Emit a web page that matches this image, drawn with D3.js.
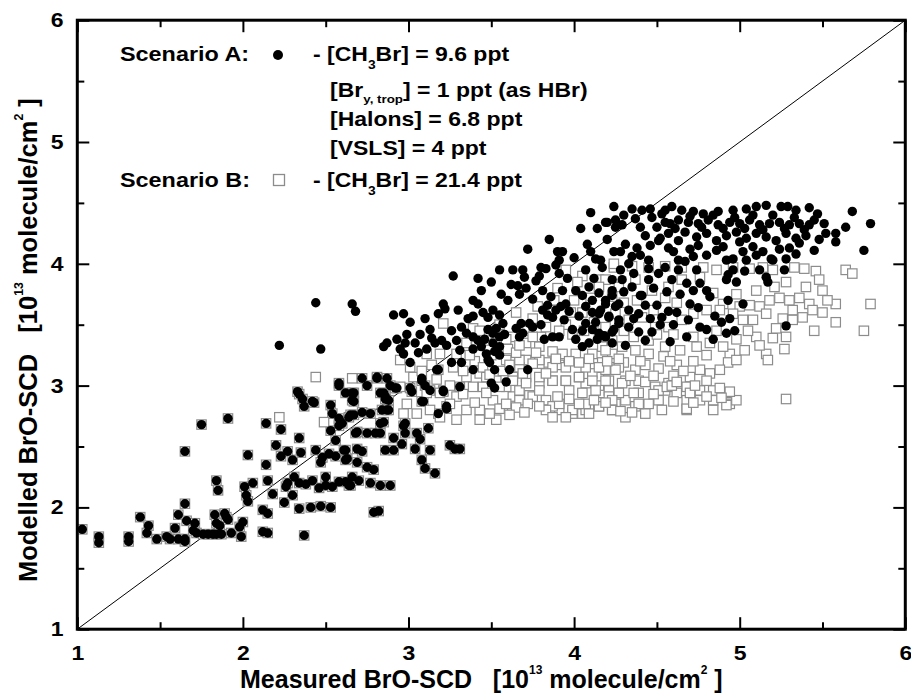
<!DOCTYPE html>
<html><head><meta charset="utf-8">
<script src="https://cdn.jsdelivr.net/npm/d3@7"></script>
<style>
body{margin:0;background:#fff}
svg{display:block}
text{font-family:"Liberation Sans",Arial,sans-serif;font-weight:bold;fill:#000}
</style>
</head><body>
<svg id="c" width="911" height="695"></svg>
<script>
// ---------- data (measured, modelled) in 10^13 molecule/cm^2 ----------
// points where scenario A and scenario B coincide
const sharedPts = [
[1.03,1.82],[1.13,1.76],[1.13,1.71],[1.31,1.76],[1.31,1.72],[1.38,1.92],[1.43,1.85],[1.42,1.79],[1.48,1.74],[1.54,1.76],
[1.56,1.74],[1.59,1.83],[1.61,1.74],[1.65,1.72],[1.65,1.74],[1.61,1.94],[1.65,2.03],[1.66,1.89],[1.65,2.46],[1.71,1.87],
[1.70,1.81],[1.72,1.79],[1.75,2.68],[1.76,1.78],[1.79,1.78],[1.82,1.78],[1.84,1.78],[1.87,1.78],[1.83,1.94],[1.84,1.87],
[1.86,1.85],[1.89,1.95],[1.91,1.90],[1.90,1.92],[1.84,2.22],[1.85,2.14],[1.91,2.73],[1.93,1.79],[1.98,1.84],[2.00,1.88],
[1.99,1.76],[2.01,2.17],[2.02,2.10],[2.03,2.05],[2.06,2.20],[2.03,2.43],[2.12,1.98],[2.15,1.95],[2.12,1.80],[2.15,1.79],
[2.14,2.35],[2.15,2.22],[2.14,2.69],[2.23,2.64],[2.20,2.51],[2.23,2.42],[2.27,2.46],[2.18,2.11],[2.25,2.04],[2.30,2.10],
[2.31,2.25],[2.26,2.17],[2.27,2.20],[2.34,2.57],[2.35,2.45],[2.30,2.39],[2.34,1.99],[2.41,2.00],[2.47,2.01],[2.53,2.00],
[2.37,1.77],[2.34,2.20],[2.38,2.19],[2.42,2.22],[2.46,2.16],[2.50,2.18],[2.54,2.17],[2.58,2.21],[2.62,2.21],[2.65,2.18],
[2.50,2.25],[2.44,2.47],[2.48,2.41],[2.47,2.37],[2.52,2.44],[2.56,2.42],[2.61,2.47],[2.62,2.39],[2.33,2.95],[2.36,2.89],
[2.37,2.83],[2.43,2.86],[2.53,2.84],[2.54,2.77],[2.58,3.00],[2.62,2.94],[2.67,2.94],[2.67,2.87],[2.53,2.63],[2.56,2.55],
[2.59,2.70],[2.58,2.67],[2.64,2.74],[2.67,2.76],[2.68,2.61],[2.63,2.40],
[2.34,2.93],[2.42,2.87],[2.58,3.02],[2.66,2.88],[2.72,3.06],[2.75,3.00],[2.81,3.06],[2.83,2.94],[2.87,3.06],[2.89,3.00],
[2.93,2.98],[2.86,2.91],[2.88,2.88],[2.84,2.80],[2.87,2.80],[3.01,2.98],[3.08,3.04],[3.10,3.00],[3.13,2.96],[3.09,2.87],
[3.21,2.96],[3.23,2.81],[3.31,2.99],[2.77,2.77],[2.60,2.69],[2.69,2.62],[2.75,2.61],[2.83,2.61],[2.83,2.69],[2.97,2.67],
[3.05,2.61],[3.12,2.65],[3.18,2.77],[2.98,2.61],[2.66,2.94],[2.81,3.07],[2.92,2.98],[2.85,2.94],[2.86,2.89],[2.88,2.80],
[3.02,2.95],[3.08,3.06],[3.18,3.13],[3.21,2.95],[3.08,2.87],[3.23,2.83],[2.98,2.69],[2.85,2.70],[2.58,2.73],[2.65,2.76],
[2.72,2.78],[2.80,2.61],[2.91,2.57],[2.96,2.52],[3.04,2.48],[3.07,2.56],[3.13,2.47],[2.86,2.47],[2.91,2.47],[2.62,2.47],
[2.69,2.48],[2.72,2.46],[2.69,2.37],[2.75,2.33],[2.79,2.31],[2.66,2.25],[2.70,2.22],[2.64,2.18],[2.77,2.20],[2.83,2.18],
[2.89,2.18],[3.08,2.39],[3.10,2.32],[3.16,2.28],[3.25,2.51],[3.28,2.48],[3.31,2.48],[2.79,1.96],[2.82,1.97]
];
// scenario A only (black dots)
const aOnlyPts = [
[2.44,3.68],[2.66,3.67],[2.68,3.61],[2.22,3.33],[2.47,3.30],
[2.91,3.58],[2.97,3.59],[3.01,3.52],[2.87,3.35],[2.85,3.32],[2.95,3.30],[2.97,3.26],[2.98,3.35],[2.99,3.42],[3.04,3.35],
[3.01,3.19],[3.11,3.30],[3.14,3.39],[3.16,3.35],[3.20,3.37],[3.23,3.33],[3.18,3.59],[3.21,3.67],[3.22,3.63],[3.27,3.90],
[3.32,3.48],[3.29,3.37],[3.31,3.29],[3.35,3.43],[3.39,3.40],[3.39,3.30],[3.42,3.37],[3.46,3.38],[3.44,3.32],[3.39,3.70],
[3.42,3.67],[3.39,3.57],[3.45,3.60],[3.48,3.56],[3.44,3.78],[3.42,3.88],[3.26,3.19],[3.32,3.19],[3.17,3.13],[3.39,3.13],
[3.52,3.13],[3.61,3.13],[3.72,3.13],[3.50,3.02],[3.52,2.98],[3.59,3.03],[3.49,3.19],[3.48,3.21],
[3.51,3.62],[3.55,3.58],[3.57,3.51],[3.53,3.47],[3.51,3.43],[3.55,3.40],[3.51,3.35],[3.55,3.32],[3.58,3.42],[3.52,3.28],
[3.47,3.26],[3.55,3.25],
[3.63,3.95],[3.69,3.95],[3.70,3.89],[3.66,3.82],[3.67,3.75],[3.71,3.80],[3.75,3.71],[3.77,3.86],[3.81,3.78],[3.80,3.97],
[3.83,3.96],[3.90,4.10],[3.93,4.10],[3.91,4.03],[3.89,3.99],[3.91,3.92],[3.86,3.73],[3.84,3.66],[3.81,3.62],[3.84,3.58],
[3.89,3.62],[3.92,3.65],[3.95,3.67],[3.97,3.61],[3.87,3.56],[3.94,3.54],[3.91,3.40],[3.87,3.40],[3.82,3.38],[3.75,3.48],
[3.73,3.51],[3.68,3.51],[3.65,3.47],[3.69,3.43],[3.67,3.40],[3.72,4.12],
[4.04,4.29],[4.14,4.29],[4.20,4.34],[4.24,4.47],[4.25,4.30],[4.10,4.10],[4.13,4.04],[4.16,4.03],
[4.01,3.78],[4.05,3.74],[4.09,3.81],[4.11,3.70],[4.15,3.76],[4.19,3.70],[4.23,3.78],[4.07,3.65],[4.11,3.60],[4.16,3.62],
[4.21,3.57],[4.25,3.65],[4.03,3.57],[4.07,3.51],[4.11,3.46],[4.15,3.43],[4.19,3.40],[4.24,3.46],[4.01,3.38],[4.05,3.32],
[4.09,3.35],[4.14,3.38],[4.23,3.35],[4.27,3.54],
[4.35,4.45],[4.41,4.44],[4.46,4.45],[4.55,4.44],[4.59,4.47],[4.65,4.44],[4.72,4.43],[4.78,4.41],[4.87,4.43],[4.96,4.44],
[5.04,4.45],[5.10,4.47],[5.16,4.48],[5.25,4.47],[5.29,4.47],[5.34,4.44],[5.42,4.46],[5.47,4.41],[5.68,4.43],[5.79,4.33],
[5.64,4.30],[5.58,4.25],[5.58,4.18],[5.75,4.11],[5.51,4.33],[5.45,4.11],
[4.19,4.34],[4.25,4.36],[4.29,4.32],[4.37,4.37],[4.47,4.38],[4.55,4.34],[4.58,4.33],[4.63,4.36],[4.69,4.34],[4.75,4.33],
[4.81,4.36],[4.87,4.32],[4.94,4.34],[5.00,4.33],[5.06,4.36],[5.12,4.32],[5.18,4.33],[5.24,4.34],[5.30,4.32],[5.36,4.33],
[5.42,4.32],
[4.43,4.23],[4.51,4.19],[4.57,4.25],[4.63,4.19],[4.67,4.26],[4.74,4.22],[4.80,4.25],[4.86,4.19],[4.92,4.23],[4.98,4.26],
[5.04,4.21],[5.10,4.25],[5.16,4.22],[5.22,4.19],[5.28,4.25],[5.34,4.21],[5.40,4.23],[5.36,4.17],
[4.24,4.10],[4.28,4.10],[4.38,4.13],[4.46,4.15],[4.52,4.21],[4.57,4.13],[4.63,4.03],[4.67,4.02],[4.72,4.06],[4.75,4.15],
[4.86,4.11],[4.92,4.03],[4.96,4.04],[5.02,4.10],[5.04,4.03],[5.10,4.07],[5.19,4.04],[5.20,4.03],[5.28,4.04],[5.30,4.13],
[4.33,4.00],[4.45,4.03],[4.35,4.06],
[4.17,3.97],[4.23,3.87],[4.29,3.87],[4.35,3.81],[4.40,3.74],[4.45,3.96],[4.45,3.87],[4.51,3.92],[4.55,3.97],[4.59,3.87],
[4.63,3.95],[4.68,3.84],[4.74,3.95],[4.76,3.84],[4.80,3.78],[4.70,3.67],[4.82,3.73],[4.92,3.87],[4.98,3.85],[4.93,3.91],
[5.03,3.94],[5.16,3.89],[5.17,3.85],[5.27,3.95],[5.02,3.67],[4.85,3.57],[4.89,3.52],[4.94,3.55],[4.92,3.43],[4.97,3.45],
[4.84,3.38],[4.69,3.54],[4.76,3.48],[4.68,3.40],[4.53,3.56],[4.52,3.50],[4.57,3.61],[4.50,3.66],[4.43,3.66],[4.41,3.74],
[4.39,3.59],[4.33,3.62],[4.27,3.67],[4.23,3.74],[4.19,3.67],[4.15,3.59],[4.21,3.56],[4.27,3.51],[4.33,3.48],[4.39,3.44],
[4.43,3.37],[4.23,3.44],[4.18,3.41],[4.31,3.33],[5.28,3.49],
[4.30,4.40],[4.40,4.30],[4.50,4.30],[4.53,4.41],[4.61,4.29],[4.70,4.39],[4.77,4.30],[4.84,4.40],[4.90,4.29],[4.97,4.38],
[5.03,4.29],[5.08,4.40],[5.14,4.28],[5.20,4.40],[5.27,4.29],[5.33,4.38],[5.39,4.28],[5.45,4.36],[5.52,4.25],[5.48,4.20],
[4.60,4.10],[4.70,4.12],[4.80,4.07],[4.90,4.14],[5.00,4.18],[5.08,4.14],[5.14,4.10],[5.24,4.12],[5.34,4.08],[4.40,4.07],
[4.31,4.16],[4.20,4.20],[4.08,4.16],[4.00,4.05],[3.96,3.88],[4.07,3.95],[4.12,3.88],[4.28,3.95],[4.36,3.92],[4.48,3.80],
[4.56,3.77],[4.64,3.75],[4.72,3.78],[4.62,3.60],[4.75,3.64],[4.80,3.46],[4.58,3.36],[4.47,3.44],[4.36,3.55],[4.46,3.55],
[4.30,3.77],[4.13,3.52],[3.99,3.46],[3.93,3.78],[3.79,3.90],[3.60,3.70],[3.62,3.83],[3.56,3.75],[3.48,3.46],[3.36,3.55],
[3.30,3.62],[3.26,3.45],[3.13,3.46],[3.07,3.42],[3.06,3.27],[2.93,3.38],[3.10,3.55],[3.55,3.95],[3.50,3.85],[3.85,4.20],
[4.10,4.42],[4.96,3.95],[5.12,3.95],[4.93,3.70],[4.60,3.50],[4.05,3.45],[3.80,3.50]
];
// scenario B only (open squares)
const bOnlyPts = [
[4.24,3.97],[4.35,3.98],[4.45,3.97],[4.55,3.98],[4.65,3.97],[4.78,3.97],[4.86,3.95],[4.96,3.97],[5.06,3.96],[5.14,3.97],
[5.20,3.95],[5.33,3.97],[5.39,3.96],[5.46,3.94],[5.48,3.87],[5.50,3.78],[5.64,3.95],[5.68,3.92],[5.21,3.81],
[4.15,3.87],[4.27,3.81],[4.37,3.87],[4.47,3.78],[4.57,3.81],[4.65,3.87],[4.76,3.89],[4.84,3.76],[4.90,3.67],[5.00,3.65],
[5.06,3.66],[5.12,3.65],[5.18,3.70],[5.24,3.72],[5.30,3.70],[5.36,3.72],[5.42,3.67],[5.44,3.62],[5.38,3.56],[5.32,3.54],
[5.26,3.55],[5.16,3.59],[5.08,3.54],[5.02,3.54],[4.96,3.59],[4.88,3.62],[4.80,3.62],[4.72,3.59],[4.65,3.54],[4.57,3.48],
[4.49,3.48],[4.41,3.56],[4.33,3.54],[4.25,3.59],[4.19,3.48],[5.58,3.67],[5.79,3.67],[5.58,3.52],[5.75,3.45],[5.45,3.45],
[5.28,3.40],[5.20,3.39],[5.10,3.40],[5.03,3.29],[4.94,3.26],[4.93,3.19],[4.98,3.21],[5.16,3.26],[5.17,3.21],[5.27,3.30],
[4.82,3.35],[4.74,3.32],[4.72,3.40],[4.64,3.29],[4.55,3.32],[4.54,3.24],[4.45,3.26],[4.45,3.37],[4.37,3.29],[4.29,3.32],
[4.23,3.26],[4.17,3.32],[4.15,3.40],
[4.17,3.19],[4.25,3.15],[4.30,3.19],[4.37,3.13],[4.43,3.17],[4.51,3.14],[4.62,3.17],[4.70,3.07],[4.76,3.13],[4.82,3.10],
[4.68,2.99],[4.76,2.96],[4.84,2.88],[4.92,2.94],[4.94,2.85],[4.98,2.88],[5.28,2.89],[4.15,3.07],[4.21,3.04],[4.31,3.04],
[4.39,3.04],[4.49,2.99],[4.57,3.02],[4.62,2.94],[4.55,2.96],[4.68,2.88],[4.68,2.80],[4.76,2.88],[4.84,2.80],[4.17,2.94],
[4.25,2.94],[4.31,2.88],[4.39,2.94],[4.45,2.85],[4.51,2.88],[4.15,2.83],[4.23,2.80],[4.31,2.74],[4.43,2.77],[4.37,2.83],
[4.07,3.02],[4.15,3.00],[4.21,2.96],[4.29,3.02],[4.36,2.94],[4.43,3.03],[4.51,2.96],[4.56,2.99],[4.59,3.00],[4.70,2.94],
[4.84,2.96],[4.94,2.95],[4.92,2.84],[4.68,2.81],[4.05,2.77],[4.09,2.83],[4.25,2.85],[4.39,2.85],
[3.91,3.17],[3.83,3.19],[3.79,3.18],[3.71,3.21],[3.67,3.15],[3.63,3.07],[3.71,3.07],[3.79,3.02],[3.87,3.04],[3.95,3.04],
[4.03,3.07],[4.11,3.10],[4.19,3.13],[4.27,3.15],[3.97,2.96],[4.05,2.94],[4.13,2.96],[4.21,2.91],[4.27,2.94],[3.83,2.88],
[3.91,2.80],[3.87,2.83],[3.99,2.77],[4.07,2.80],[4.15,2.83],[4.23,2.80],[3.45,2.77],[3.43,2.72],[3.53,2.72],[3.57,2.81],
[3.51,2.88],[3.63,2.91],[3.73,2.92],[3.67,2.96],[3.59,2.99],[3.45,2.99],[3.53,3.04],[3.43,3.10],[3.35,3.07],[3.29,2.72],
[3.19,2.74],[3.13,2.80],[2.99,2.85],[3.05,2.77],[2.97,2.77],
[2.44,3.07],[2.66,3.06],[3.21,3.51],[3.39,3.47],[3.53,3.45],[3.47,3.37],[3.63,3.40],[3.71,3.35],[3.79,3.32],[3.87,3.28],
[3.93,3.26],[4.01,3.26],[4.11,3.26],[4.19,3.29],[4.23,3.37],[4.24,4.00],[4.19,3.87],[4.15,3.81],[4.23,3.73],[4.07,3.15],
[4.15,3.15],[3.95,3.15],[3.87,3.15],[3.79,3.21],[3.67,3.21],[3.59,3.21],[3.47,3.07],[3.27,3.15],[3.29,3.26],[3.19,3.26],
[3.11,3.26],[3.01,3.15],[2.95,3.21],[3.03,3.07],[2.95,2.99],[3.11,2.94],[3.19,2.94],[3.29,2.91],[3.39,2.99],[3.47,2.94],
[3.55,2.99],[3.63,3.04],[3.71,3.02],[3.79,3.07],[3.87,3.04],[3.95,3.04],[4.03,3.07],[4.11,3.04],[4.19,3.04],[4.25,3.13],
[3.35,2.80],[3.43,2.80],[3.49,2.77],[3.55,2.81],[3.59,2.85],[3.67,2.88],[3.75,2.91],[3.83,2.80],[3.91,2.85],[3.99,2.80],
[4.07,2.85],[4.23,2.88],[3.87,2.74],[3.95,2.74],[4.09,2.77],
[2.22,2.74],[2.49,2.70],[3.95,3.95],[4.05,3.90],[3.90,3.80],[4.00,3.70],[3.85,3.62],[3.75,3.55],[3.95,3.50],[4.05,3.60],
[3.70,3.45],[3.80,3.40],[3.60,3.30],[3.50,3.25],[3.40,3.20],[3.65,3.60],[3.55,3.50],
[3.33,3.12],[3.37,3.25],[3.41,3.33],[3.45,3.15],[3.49,3.09],[3.57,3.12],[3.61,3.17],[3.65,3.27],[3.69,3.10],[3.75,3.18],
[3.77,3.27],[3.83,3.10],[3.89,3.22],[3.97,3.20],[4.03,3.19],[4.09,3.22],[3.35,3.35],[3.43,3.45],[3.59,3.38],[3.67,3.33],
[3.75,3.40],[3.83,3.48],[3.91,3.45],[3.99,3.42],[4.06,3.45],[4.12,3.52],[3.98,3.60],[3.88,3.70],[4.10,3.72],[4.02,3.85],
[3.78,3.65],[4.60,3.08],[4.66,3.12],[4.72,3.20],[4.80,3.25],[4.88,3.13],[4.90,3.32],[4.86,3.45],[4.98,3.38],[5.05,3.45],
[5.12,3.33],[5.22,3.47],[5.32,3.62],[5.50,3.60],[5.53,3.70],[5.40,3.81],[5.28,3.85],[5.10,3.78],[4.98,3.75],[4.62,3.68],
[4.55,3.72],[4.48,3.62],[4.38,3.70],[4.30,3.68],[4.36,3.40],[4.30,3.45],[4.50,3.42],[4.60,3.42],[4.58,3.20],[4.48,3.08],
[4.40,3.20],[4.34,3.08],[4.27,3.22],[4.20,3.20],[4.62,3.03],[4.73,3.00],[4.80,3.04],[4.88,2.98],[4.89,2.90],[4.80,2.91],
[4.72,2.86],[4.60,2.87],[4.53,2.80],[4.48,2.93],[4.35,2.78],[4.28,2.79],[4.19,2.86],[4.12,2.88],[4.03,2.85],[3.97,2.89],
[3.90,2.91],[3.79,2.96],[3.72,2.85],[3.65,2.82],[3.61,2.76],[3.70,2.78],[3.79,2.83],[3.40,2.86],[3.33,2.93],[3.25,2.85],
[3.25,3.00],[3.17,3.05],[3.14,3.17],[3.08,3.12]
];
const scenarioA = sharedPts.concat(aOnlyPts);
const scenarioB = sharedPts.concat(bOnlyPts);

const majorTicks = [1, 2, 3, 4, 5, 6];
const minorTicks = [1.5, 2.5, 3.5, 4.5, 5.5];
const oneToOne = [1, 6];

// ---------- drawing ----------
const svg = d3.select('#c');
const L = 77.3, R = 905.3, T = 20.2, B = 629.2;
const x = d3.scaleLinear().domain([1, 6]).range([L, R]);
const y = d3.scaleLinear().domain([1, 6]).range([B, T]);

// 1:1 line
svg.append('line')
  .attr('x1', x(oneToOne[0])).attr('y1', y(oneToOne[0]))
  .attr('x2', x(oneToOne[1])).attr('y2', y(oneToOne[1]))
  .attr('stroke', '#000').attr('stroke-width', 1);

// Scenario B squares
const sq = 9.4;
svg.append('g').selectAll('rect').data(scenarioB).join('rect')
  .attr('x', d => x(d[0]) - sq / 2).attr('y', d => y(d[1]) - sq / 2)
  .attr('width', sq).attr('height', sq)
  .attr('fill', '#fff').attr('stroke', '#8c8c8c').attr('stroke-width', 1.2);

// Scenario A dots
svg.append('g').selectAll('circle').data(scenarioA).join('circle')
  .attr('cx', d => x(d[0])).attr('cy', d => y(d[1])).attr('r', 4.7)
  .attr('fill', '#000');

// ticks on all four sides (inward)
function tickAxis(fn, scale, tr, vals, len) {
  const g = svg.append('g').attr('transform', tr)
    .call(fn(scale).tickValues(vals).tickSizeInner(-len).tickSizeOuter(0).tickFormat(''));
  g.select('.domain').remove();
  g.selectAll('line').attr('stroke', '#000').attr('stroke-width', 2);
}
tickAxis(d3.axisBottom, x, `translate(0,${B})`, majorTicks, 12);
tickAxis(d3.axisBottom, x, `translate(0,${B})`, minorTicks, 7);
tickAxis(d3.axisTop, x, `translate(0,${T})`, majorTicks, 12);
tickAxis(d3.axisTop, x, `translate(0,${T})`, minorTicks, 7);
tickAxis(d3.axisLeft, y, `translate(${L},0)`, majorTicks, 12);
tickAxis(d3.axisLeft, y, `translate(${L},0)`, minorTicks, 7);
tickAxis(d3.axisRight, y, `translate(${R},0)`, majorTicks, 12);
tickAxis(d3.axisRight, y, `translate(${R},0)`, minorTicks, 7);

// frame
svg.append('rect').attr('x', L).attr('y', T).attr('width', R - L).attr('height', B - T)
  .attr('fill', 'none').attr('stroke', '#000').attr('stroke-width', 3);

// tick labels
const sx = 1.15;
const gxl = svg.append('g').attr('transform', `translate(0,${B})`)
  .call(d3.axisBottom(x).tickValues(majorTicks).tickSize(0).tickPadding(16.6).tickFormat(d3.format('d')));
gxl.select('.domain').remove();
gxl.attr('font-family', null).attr('font-size', null);
gxl.selectAll('text').style('font-size', '20px').attr('transform', `scale(${sx},1)`);

const gyl = svg.append('g').attr('transform', `translate(${L},0)`)
  .call(d3.axisLeft(y).tickValues(majorTicks).tickSize(0).tickPadding(12).tickFormat(d3.format('d')));
gyl.select('.domain').remove();
gyl.attr('font-family', null).attr('font-size', null);
gyl.selectAll('text').style('font-size', '20px').attr('transform', `scale(${sx},1)`);

// rich text helper
function rich(parent, parts, fs, tr, supShift, subShift, smallSize) {
  const t = parent.append('text').attr('transform', tr)
    .style('font-size', fs + 'px').style('white-space', 'pre');
  let cur = 0;
  parts.forEach(([s, k]) => {
    const target = k === 'sup' ? -supShift * fs : (k === 'sub' ? subShift * fs : 0);
    const size = k === 'n' ? fs : smallSize * fs;
    t.append('tspan').attr('dy', target - cur).style('font-size', size + 'px').text(s);
    cur = target;
  });
  return t;
}

// axis titles
rich(svg, [['Measured BrO-SCD   [10', 'n'], ['13', 'sup'], [' molecule/cm', 'n'], ['2', 'sup'], [' ]', 'n']],
  25, 'translate(240,688)', 0.55, 0, 0.48);
rich(svg, [['Modelled BrO-SCD   [10', 'n'], ['13', 'sup'], [' molecule/cm', 'n'], ['2', 'sup'], [' ]', 'n']],
  25, 'translate(37,582) rotate(-90) scale(1.02,1)', 0.55, 0, 0.48);

// legend
const ls = 1.15, lf = 20;
const leg = svg.append('g');
rich(leg, [['Scenario A:', 'n']], lf, `translate(120,61) scale(1.17,1)`, 0, 0, 1);
leg.append('circle').attr('cx', 278).attr('cy', 55).attr('r', 5).attr('fill', '#000');
rich(leg, [['- [CH', 'n'], ['3', 'sub'], ['Br] = 9.6 ppt', 'n']], lf, `translate(313,61) scale(${ls},1)`, 0, 0.42, 0.6);
rich(leg, [['[Br', 'n'], ['y, trop', 'sub'], ['] = 1 ppt (as HBr)', 'n']], lf, `translate(330,97) scale(${ls},1)`, 0, 0.3, 0.58);
rich(leg, [['[Halons] = 6.8 ppt', 'n']], lf, `translate(330,126) scale(${ls},1)`, 0, 0, 1);
rich(leg, [['[VSLS] = 4 ppt', 'n']], lf, `translate(330,155) scale(${ls},1)`, 0, 0, 1);
rich(leg, [['Scenario B:', 'n']], lf, `translate(120,187) scale(1.17,1)`, 0, 0, 1);
leg.append('rect').attr('x', 273.5).attr('y', 174.5).attr('width', 11).attr('height', 11)
  .attr('fill', '#fff').attr('stroke', '#8c8c8c').attr('stroke-width', 1.3);
rich(leg, [['- [CH', 'n'], ['3', 'sub'], ['Br] = 21.4 ppt', 'n']], lf, `translate(313,187) scale(${ls},1)`, 0, 0.42, 0.6);
</script>
</body></html>
